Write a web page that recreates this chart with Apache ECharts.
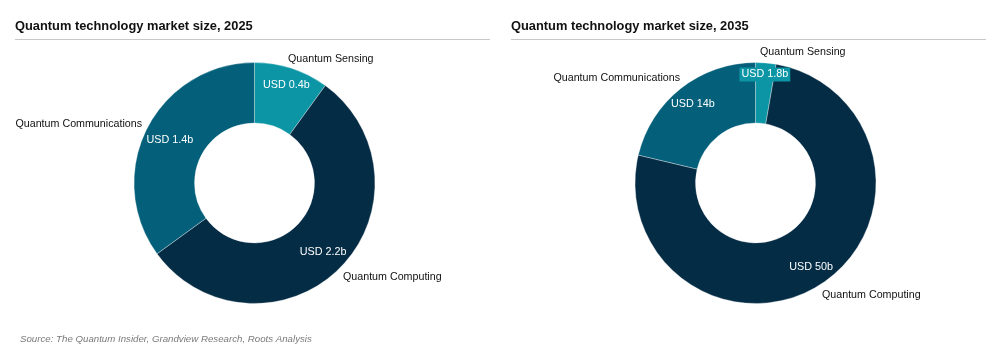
<!DOCTYPE html>
<html>
<head>
<meta charset="utf-8">
<script src="https://cdn.jsdelivr.net/npm/echarts@6/dist/echarts.min.js"></script>
<style>
  html, body { margin: 0; padding: 0; background: #fff; }
  #chart { width: 996px; height: 360px; }
</style>
</head>
<body>
<div id="chart"></div>
<script>
// ---- data ----
const categories = ['Quantum Sensing', 'Quantum Computing', 'Quantum Communications'];
const values2025 = [0.4, 2.2, 1.4];
const values2035 = [1.8, 50, 14];
const titles = ['Quantum technology market size, 2025', 'Quantum technology market size, 2035'];
const sourceText = 'Source: The Quantum Insider, Grandview Research, Roots Analysis';

// ---- styles / layout ----
const colors = ['#0c96a5', '#052c45', '#04607a'];
const FONT = 'Liberation Sans, Arial, sans-serif';
const centers = [[254.5, 183], [755.5, 183]];
const radius = [60, 120.5];
// radial distance of value labels per category
const valueLabelR = [[103, 97, 95], [109, 101, 101]];
// name label anchor offsets from pie centre [dx, dy, align]
const nameLabelOff = [
  [[33.5, -124, 'left'], [88.5, 94, 'left'], [-112.5, -59, 'right']],
  [[4.5, -131, 'left'], [66.5, 112, 'left'], [-75.5, -105, 'right']]
];

function midAngles(vals) {
  const total = vals.reduce((a, b) => a + b, 0);
  let acc = 0;
  return vals.map(v => {
    const mid = (acc + v / 2) / total * 2 * Math.PI;
    acc += v;
    return mid;
  });
}

function makeSeries(idx, vals) {
  const mids = midAngles(vals);
  const c = centers[idx];
  const data = categories.map((n, i) => ({
    name: n,
    value: vals[i],
    itemStyle: { color: colors[i] },
    label: (idx === 1 && i === 0) ? { backgroundColor: colors[0], padding: [2, 2, 1, 2] } : {}
  }));
  const common = {
    type: 'pie',
    center: c,
    radius: radius,
    startAngle: 90,
    clockwise: true,
    avoidLabelOverlap: false,
    silent: true,
    animation: false,
    labelLine: { show: false },
    emphasis: { disabled: true }
  };
  return [
    Object.assign({}, common, {
      name: 'values' + idx,
      data: data,
      itemStyle: { borderColor: 'rgba(255,255,255,0.55)', borderWidth: 0.6 },
      label: {
        show: true,
        position: 'inside',
        color: '#ffffff',
        fontFamily: FONT,
        fontSize: 10.8,
        formatter: p => 'USD ' + p.value + 'b'
      },
      labelLayout: p => {
        const a = mids[p.dataIndex];
        const r = valueLabelR[idx][p.dataIndex];
        return {
          x: c[0] + r * Math.sin(a),
          y: c[1] - r * Math.cos(a),
          align: 'center',
          verticalAlign: 'middle'
        };
      }
    }),
    Object.assign({}, common, {
      name: 'names' + idx,
      data: categories.map((n, i) => ({ name: n, value: vals[i] })),
      itemStyle: { color: 'rgba(0,0,0,0)' },
      label: {
        show: true,
        position: 'outside',
        color: '#111111',
        fontFamily: FONT,
        fontSize: 10.7,
        formatter: '{b}'
      },
      labelLayout: p => {
        const o = nameLabelOff[idx][p.dataIndex];
        return { x: c[0] + o[0], y: c[1] + o[1], align: o[2], verticalAlign: 'middle' };
      }
    })
  ];
}

const chart = echarts.init(document.getElementById('chart'), null, { renderer: 'canvas' });
chart.setOption({
  backgroundColor: '#ffffff',
  animation: false,
  title: [
    { text: titles[0], left: 15, top: 20, padding: 0,
      textStyle: { fontFamily: FONT, fontSize: 12.85, fontWeight: 'bold', color: '#111' } },
    { text: titles[1], left: 511, top: 20, padding: 0,
      textStyle: { fontFamily: FONT, fontSize: 12.85, fontWeight: 'bold', color: '#111' } },
    { text: sourceText, left: 20, top: 334, padding: 0,
      textStyle: { fontFamily: FONT, fontSize: 9.7, fontStyle: 'italic', fontWeight: 'normal', color: '#7a7a7a' } }
  ],
  graphic: [
    { type: 'line', shape: { x1: 15, y1: 39.5, x2: 490, y2: 39.5 }, style: { stroke: '#c8c8c8', lineWidth: 1 } },
    { type: 'line', shape: { x1: 511, y1: 39.5, x2: 986, y2: 39.5 }, style: { stroke: '#c8c8c8', lineWidth: 1 } }
  ],
  series: [].concat(makeSeries(0, values2025), makeSeries(1, values2035))
});
</script>
</body>
</html>
